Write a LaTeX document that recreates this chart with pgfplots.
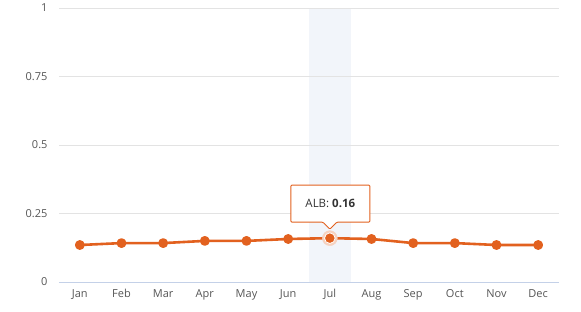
\documentclass[border=0pt]{standalone}
\usepackage{pgfplots}
\pgfplotsset{compat=1.18}
\usepackage{fontspec}
\setmainfont{Open Sans}
\definecolor{lineor}{HTML}{E2611F}
\definecolor{halo}{HTML}{F6D2C0}
\definecolor{tickgray}{HTML}{555555}
\definecolor{gridgray}{HTML}{E3E3E3}
\definecolor{axisblue}{HTML}{C4D1E8}
\definecolor{bandblue}{HTML}{F2F5FA}
\begin{document}
\begin{tikzpicture}[x=1pt,y=1pt]
\useasboundingbox (-59,-29) rectangle (522,282);
\begin{axis}[
  at={(0,0)}, anchor=south west,
  scale only axis, width=500pt, height=274pt,
  xmin=-0.5, xmax=11.5, ymin=0, ymax=1,
  xtick={0,...,11},
  xticklabels={Jan,Feb,Mar,Apr,May,Jun,Jul,Aug,Sep,Oct,Nov,Dec},
  ytick={0,0.25,0.5,0.75,1},
  yticklabels={0,0.25,0.5,0.75,1},
  ymajorgrids, grid style={gridgray, line width=0.8pt},
  axis line style={draw=none},
  major tick length=0pt,
  tick style={draw=none},
  ticklabel style={font=\fontsize{11}{13}\selectfont, text=tickgray},
  yticklabel style={xshift=-8pt},
  xticklabel style={yshift=-4pt},
  clip=false,
]
\fill[bandblue] (axis cs:5.5,0) rectangle (axis cs:6.5,1);
\draw[gridgray, line width=0.8pt] (axis cs:5.5,0.25) -- (axis cs:6.5,0.25)
  (axis cs:5.5,0.5) -- (axis cs:6.5,0.5) (axis cs:5.5,0.75) -- (axis cs:6.5,0.75)
  (axis cs:5.5,1) -- (axis cs:6.5,1);
\draw[axisblue, line width=0.8pt] (axis cs:-0.5,0) -- (axis cs:11.5,0);
\addplot[color=lineor, line width=2.6pt, line join=round, mark=*, mark size=3.6pt, mark options={solid, fill=lineor, draw=none}] coordinates {
(0,0.135) (1,0.142) (2,0.142) (3,0.150) (4,0.150) (5,0.157)
(6,0.160) (7,0.157) (8,0.142) (9,0.142) (10,0.135) (11,0.135)};
\addplot[color=halo, only marks, mark=*, mark size=7.5pt, mark options={fill=halo, draw=none}] coordinates {(6,0.160)};
\addplot[color=lineor, only marks, mark=*, mark size=5.3pt, mark options={fill=lineor, draw=white, line width=0.8pt}] coordinates {(6,0.160)};
\draw[lineor, line width=0.9pt, fill=white, rounded corners=1pt]
  ([shift={(-39pt,16pt)}]axis cs:6,0.160) --
  ([shift={(-7pt,16pt)}]axis cs:6,0.160) --
  ([shift={(0pt,9pt)}]axis cs:6,0.160) --
  ([shift={(7pt,16pt)}]axis cs:6,0.160) --
  ([shift={(40pt,16pt)}]axis cs:6,0.160) --
  ([shift={(40pt,53pt)}]axis cs:6,0.160) --
  ([shift={(-39pt,53pt)}]axis cs:6,0.160) -- cycle;
\node[font=\fontsize{11.5}{13}\selectfont, text=black!80] at ([shift={(0.5pt,34.5pt)}]axis cs:6,0.160) {ALB: \textbf{0.16}};
\end{axis}
\end{tikzpicture}
\end{document}
